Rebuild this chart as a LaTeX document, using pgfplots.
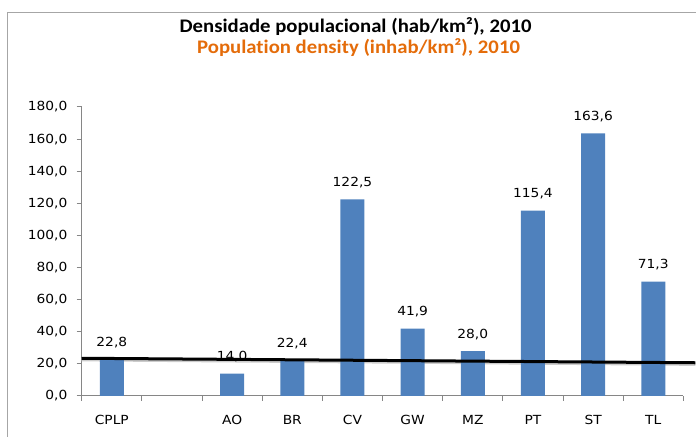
\documentclass[border=0pt]{standalone}
\usepackage{fontspec}
\usepackage{pgfplots}
\pgfplotsset{compat=1.18}
\newfontfamily\lblfont[FakeStretch=1.1]{DejaVu Sans}
\newfontfamily\titlefont[FakeStretch=1.08, Ligatures=NoCommon]{Carlito}
\definecolor{barblue}{HTML}{4F81BD}
\definecolor{ttlorange}{HTML}{E46C0A}
\definecolor{axgray}{HTML}{868686}
\definecolor{framegray}{HTML}{A6A6A6}

\begin{document}
\begin{tikzpicture}
  \begin{axis}[
      scale only axis,
      width=451.2pt, height=216.75pt,
      xmin=-0.5, xmax=9.5,
      ymin=0, ymax=180,
      ytick={0,20,...,180},
      xtick={-0.5,0.5,...,9.5},
      xticklabels={},
      extra x ticks={0,1,...,9},
      extra x tick labels={CPLP,,AO,BR,CV,GW,MZ,PT,ST,TL},
      extra x tick style={major tick length=0pt},
      axis x line*=bottom, axis y line*=left,
      axis line style={axgray, line width=0.75pt},
      tick style={axgray, line width=0.75pt},
      tick align=outside,
      major tick length=3.75pt,
      ticklabel style={font=\lblfont\fontsize{9.4}{11}\selectfont, black},
      xticklabel style={yshift=-11pt},
      yticklabel style={xshift=-3.5pt, /pgf/number format/.cd, fixed, fixed zerofill, precision=1, use comma, assume math mode=true},
      clip=false,
    ]
    % shadow under the black line
    \addplot[black!20, line width=2.5pt] coordinates {(-0.5,22.6) (9.7,19.8)};
    \addplot[ybar, bar width=18pt, fill=barblue, draw=none,
      nodes near coords,
      every node near coord/.append style={font=\lblfont\fontsize{9.4}{11}\selectfont, black, yshift=5pt,
        /pgf/number format/.cd, fixed, fixed zerofill, precision=1, use comma, assume math mode=true}]
      coordinates {
        (0,22.8) (2,14.0) (3,22.4) (4,122.5) (5,41.9)
        (6,28.0) (7,115.4) (8,163.6) (9,71.3)
      };
    \addplot[black, line width=2.25pt] coordinates {(-0.5,23.5) (9.7,20.7)};
    \coordinate (bl) at (rel axis cs:0,0);
    \coordinate (tr) at (rel axis cs:1,1);
    \coordinate (tt) at (rel axis cs:0.5,1);
  \end{axis}
  \coordinate (BL) at ([xshift=-61.3pt, yshift=-30.75pt]bl);
  \coordinate (TR) at ([xshift=9.5pt, yshift=80.25pt]tr);
  \coordinate (FL) at ([xshift=6pt]BL);
  \coordinate (FT) at ([yshift=-9.5pt]TR);
  \draw[framegray, line width=0.75pt] (FL) -- (FL |- FT) -- (FT);
  \node[anchor=base, font=\titlefont\bfseries\fontsize{14.4}{16}\selectfont]
    at ([xshift=-20.25pt, yshift=56pt]tt) {Densidade populacional (hab/km²), 2010};
  \node[anchor=base, text=ttlorange, font=\titlefont\bfseries\fontsize{14.4}{16}\selectfont]
    at ([xshift=-18pt, yshift=39.8pt]tt) {Population density (inhab/km²), 2010};
  \pgfresetboundingbox
  \path[use as bounding box] (BL) rectangle (TR);
\end{tikzpicture}
\end{document}
